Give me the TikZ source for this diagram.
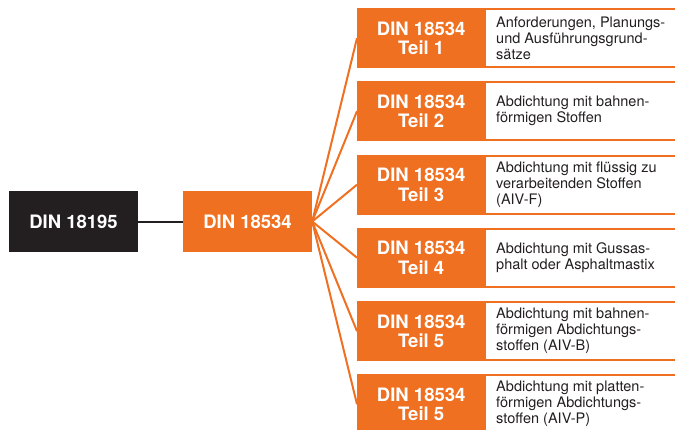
\documentclass[tikz,border=0pt]{standalone}
\usepackage{fontspec}
\setmainfont{TeX Gyre Heros}
\definecolor{dinorange}{RGB}{240,112,34}
\definecolor{dinblack}{RGB}{35,31,32}
\begin{document}
\begin{tikzpicture}[x=1pt,y=-1pt,
  titlebox/.style={minimum width=129pt,minimum height=61pt,inner sep=0pt,font=\fontsize{18.5}{19.5}\selectfont\bfseries,text=white,align=center},
  partbox/.style={fill=dinorange,minimum width=128pt,minimum height=60pt,inner sep=0pt,anchor=north west,font=\fontsize{18.5}{19.5}\selectfont\bfseries,text=white,align=center},
  descbg/.style={fill=dinorange,minimum width=200pt,minimum height=60pt,inner sep=0pt,anchor=north west},
  desc/.style={fill=white,minimum width=200pt,minimum height=56pt,inner sep=0pt,anchor=west},
  desctext/.style={anchor=west,align=left,inner sep=0pt,font=\fontsize{14.5}{16}\selectfont,text=dinblack},
  fan/.style={draw=dinorange,line width=2pt},
]
\useasboundingbox (0,0) rectangle (675,429);
\node[titlebox,fill=dinblack] (a) at (73.5,221.5) {DIN 18195};
\node[titlebox,fill=dinorange] (b) at (247.5,221.5) {DIN 18534};
\draw[dinblack,line width=2pt] (a.east) -- (b.west);
\foreach \i/\y/\t/\d in {
  1/8/1/{Anforderungen, Planungs-\\und Ausführungsgrund-\\sätze},
  2/81/2/{Abdichtung mit bahnen-\\förmigen Stoffen},
  3/154.5/3/{Abdichtung mit flüssig zu\\verarbeitenden Stoffen\\(AIV-F)},
  4/227.5/4/{Abdichtung mit Gussas-\\phalt oder Asphaltmastix},
  5/301/5/{Abdichtung mit bahnen-\\förmigen Abdichtungs-\\stoffen (AIV-B)},
  6/374/5/{Abdichtung mit platten-\\förmigen Abdichtungs-\\stoffen (AIV-P)}}{
  \node[descbg] (bg\i) at (480,\y) {};
  \node[desc] (w\i) at (486,\y+30) {};
  \node[partbox] (p\i) at (357,\y) {DIN 18534\\Teil \t};
  \node[desctext] (t\i) at (496,\y+30) {\d};
  \draw[fan] (b.east) -- (p\i.west);
}
\end{tikzpicture}
\end{document}
